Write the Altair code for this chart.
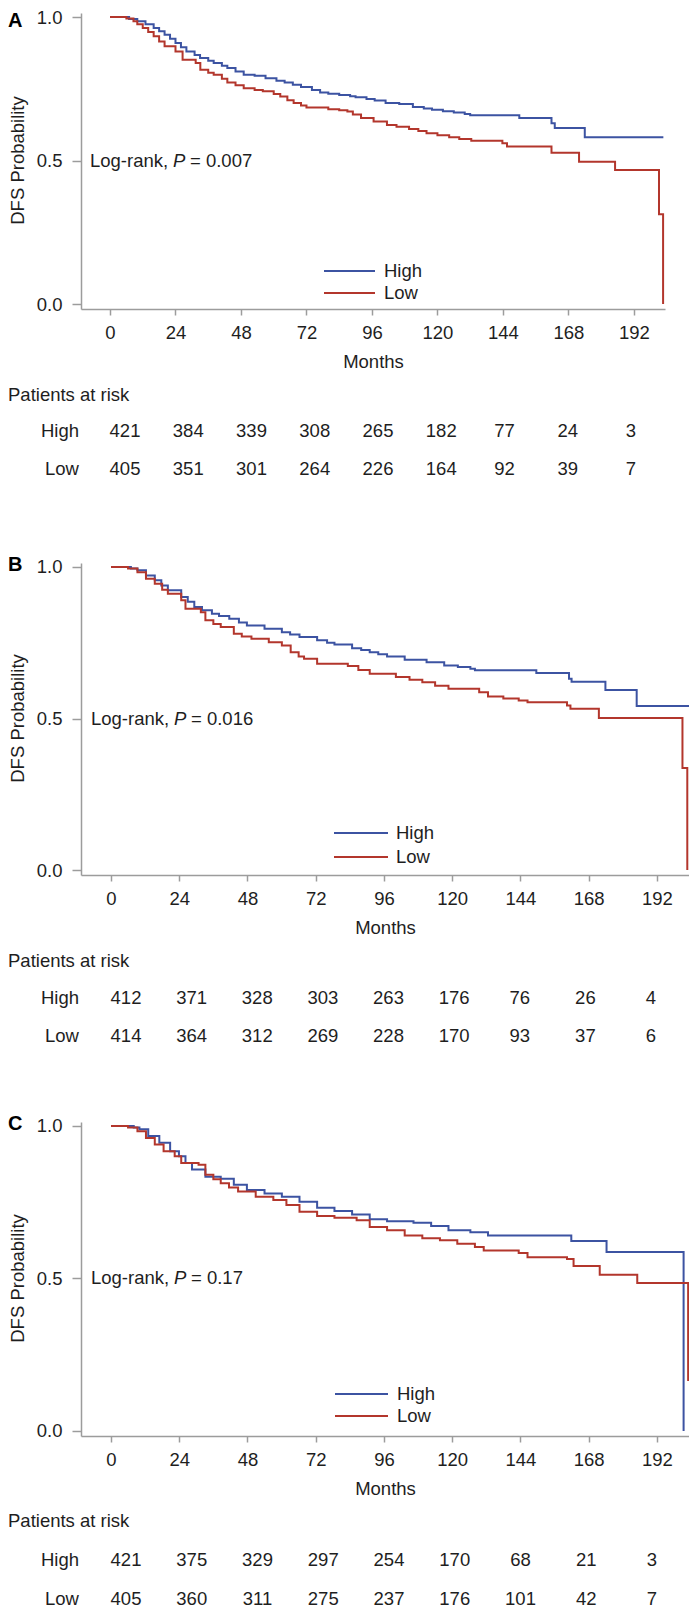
import altair as alt
import pandas as pd

FONT = "Liberation Sans"
FS = 18.5
BLUE = "#3C53A2"
RED = "#B3362C"
GRAY = "#9C9C9C"
INK = "#1E1E1E"

MONTH_TICKS = [0, 24, 48, 72, 96, 120, 144, 168, 192]
GROUPS = ["High", "Low"]

# ---------------- Panel A ----------------
A_HIGH_T = [0, 7, 10, 13, 16, 18, 20, 22, 24, 26, 28, 31, 33, 36, 38, 41, 43, 46, 49, 53,
            57, 61, 64, 67, 70, 74, 77, 80, 84, 88, 90, 94, 97, 101, 106, 111, 115, 118, 122, 126,
            130, 132, 150, 161.8, 163, 174, 202.8]
A_HIGH_S = [1.0, 0.993, 0.985, 0.975, 0.962, 0.950, 0.938, 0.924, 0.909, 0.895, 0.880, 0.868, 0.857, 0.848, 0.840, 0.830, 0.822, 0.810, 0.799, 0.795,
            0.787, 0.778, 0.772, 0.764, 0.756, 0.746, 0.737, 0.733, 0.728, 0.724, 0.720, 0.714, 0.709, 0.700, 0.697, 0.686, 0.681, 0.677, 0.672, 0.667,
            0.662, 0.658, 0.648, 0.630, 0.613, 0.581, 0.581]
A_LOW_T = [0, 6, 8.6, 10, 12, 14, 16, 18, 20, 24, 26.6, 31.4, 33.1, 36, 38, 41, 43, 46, 49, 53,
           56, 60, 62.4, 65, 67.3, 70, 72, 80, 84, 87, 89, 92, 96.6, 101.5, 105, 109.6, 113, 116, 120, 124.3,
           128, 132.4, 143.8, 145.5, 161.8, 171.9, 185.1, 201.2, 202.7]
A_LOW_S = [1.0, 0.995, 0.985, 0.975, 0.962, 0.948, 0.933, 0.915, 0.898, 0.880, 0.851, 0.840, 0.816, 0.806, 0.799, 0.785, 0.772, 0.762, 0.752, 0.746,
           0.741, 0.732, 0.723, 0.710, 0.700, 0.692, 0.685, 0.679, 0.675, 0.671, 0.660, 0.648, 0.636, 0.624, 0.618, 0.610, 0.603, 0.595, 0.588, 0.581,
           0.575, 0.569, 0.560, 0.549, 0.527, 0.496, 0.467, 0.313, 0.0]
A_RISK_HIGH = [421, 384, 339, 308, 265, 182, 77, 24, 3]
A_RISK_LOW = [405, 351, 301, 264, 226, 164, 92, 39, 7]

# ---------------- Panel B ----------------
B_HIGH_T = [0, 7, 9.3, 12.3, 15.4, 17.7, 20, 24.7, 27, 29.3, 32, 35.5, 38, 41.6, 45, 47.8, 54, 60.1, 63, 66.3,
            72.5, 76, 78.6, 84.8, 88, 91, 94, 97.1, 103.3, 111, 117.2, 122, 126.4, 128, 149.6, 161.1, 162, 173.9, 184.9, 203.3]
B_HIGH_S = [1.0, 0.995, 0.989, 0.972, 0.956, 0.939, 0.923, 0.901, 0.885, 0.868, 0.857, 0.846, 0.838, 0.829, 0.817, 0.807, 0.796, 0.785, 0.777, 0.769,
            0.758, 0.750, 0.744, 0.732, 0.726, 0.719, 0.712, 0.705, 0.694, 0.686, 0.675, 0.670, 0.664, 0.659, 0.650, 0.631, 0.621, 0.594, 0.541, 0.541]
B_LOW_T = [0, 6, 9.3, 12.3, 15.4, 18, 20, 24.7, 26.2, 31.6, 33.2, 36, 38.6, 43.2, 46, 49.4, 55.5, 60.1, 63.2, 66,
           67.9, 72.5, 83.3, 87, 91, 100.2, 105, 109.5, 114, 118.7, 129.5, 132.6, 138, 143.4, 146.5, 160.4, 161.6, 171.6, 201, 202.7]
B_LOW_S = [1.0, 0.995, 0.983, 0.961, 0.945, 0.925, 0.912, 0.890, 0.862, 0.851, 0.824, 0.812, 0.802, 0.780, 0.771, 0.763, 0.752, 0.741, 0.719, 0.705,
           0.697, 0.681, 0.673, 0.660, 0.648, 0.637, 0.628, 0.620, 0.608, 0.598, 0.587, 0.573, 0.566, 0.559, 0.554, 0.543, 0.532, 0.502, 0.337, 0.0]
B_RISK_HIGH = [412, 371, 328, 303, 263, 176, 76, 26, 4]
B_RISK_LOW = [414, 364, 312, 269, 228, 170, 93, 37, 6]

# ---------------- Panel C ----------------
C_HIGH_T = [0, 8, 10, 13.1, 17, 20.8, 23.9, 26.2, 28.5, 33.2, 38.6, 43.2, 47.8, 54, 60.1, 66.3, 72.5, 78.6, 84.8, 91,
            97.1, 106.4, 112.6, 118.7, 126.4, 132.6, 161.9, 174.3, 201.4]
C_HIGH_S = [1.0, 0.995, 0.989, 0.967, 0.945, 0.917, 0.901, 0.879, 0.857, 0.834, 0.827, 0.807, 0.790, 0.779, 0.768, 0.752, 0.732, 0.721, 0.710, 0.694,
            0.688, 0.683, 0.672, 0.658, 0.652, 0.641, 0.623, 0.587, 0.0]
C_LOW_T = [0, 6, 9.3, 12.3, 15.4, 18.5, 22.4, 24.7, 30.8, 33.2, 36, 38.6, 41.5, 44.7, 50.9, 57.1, 61.7, 66.3, 72.5, 78.6,
           86.4, 91, 97.1, 103.3, 109.5, 115.7, 121.8, 128, 131.1, 143.4, 146.5, 160.4, 162.7, 171.9, 185.1, 203.0]
C_LOW_S = [1.0, 0.995, 0.983, 0.961, 0.939, 0.917, 0.901, 0.879, 0.873, 0.840, 0.825, 0.812, 0.798, 0.785, 0.768, 0.757, 0.741, 0.719, 0.705, 0.699,
           0.691, 0.669, 0.658, 0.641, 0.632, 0.625, 0.614, 0.603, 0.592, 0.584, 0.570, 0.564, 0.541, 0.512, 0.485, 0.164]
C_RISK_HIGH = [421, 375, 329, 297, 254, 170, 68, 21, 3]
C_RISK_LOW = [405, 360, 311, 275, 237, 176, 101, 42, 7]

LETTERS = ["A", "B", "C"]
P_VALUES = ["0.007", "0.016", "0.17"]


def one(d):
    return pd.DataFrame(d)


def spacer(y):
    return alt.Chart(one({"s": [0]})).mark_rule(color="#ffffff", strokeOpacity=0, strokeWidth=1).encode(
        x=alt.value(0), x2=alt.value(1), y=alt.value(y))


def panel(letter, p, hi_t, hi_s, lo_t, lo_s, risk_hi, risk_lo, cfg):
    W, H, zero = cfg["W"], cfg["H"], cfg["zero"]
    ymin, ymax = cfg["ydom"]
    y_half = (ymax - 0.5) / (ymax - ymin) * H

    km = pd.concat([
        pd.DataFrame({"Months": hi_t, "Surv": hi_s, "Group": "High"}),
        pd.DataFrame({"Months": lo_t, "Surv": lo_s, "Group": "Low"}),
    ], ignore_index=True)

    x = alt.X("Months:Q", scale=alt.Scale(domain=cfg["xdom"], nice=False, zero=False),
              axis=alt.Axis(values=MONTH_TICKS, tickSize=6, labelPadding=8, labelFlush=False,
                            title="Months", titlePadding=cfg["titlePad"]))
    y = alt.Y("Surv:Q", scale=alt.Scale(domain=cfg["ydom"], nice=False, zero=False),
              axis=alt.Axis(values=[0, 0.5, 1.0], format=".1f", tickSize=9, labelPadding=10, title=None))

    lines = alt.Chart(km).mark_line(interpolate="step-after", strokeWidth=2, clip=True).encode(
        x=x, y=y,
        color=alt.Color("Group:N", scale=alt.Scale(domain=GROUPS, range=[BLUE, RED]), legend=None),
    )

    txt = dict(font=FONT, fontSize=FS, color=INK)

    letter_mark = alt.Chart(one({"t": [letter]})).mark_text(
        align="left", baseline="middle", font=FONT, fontSize=20, fontWeight="bold", color="#000000"
    ).encode(x=alt.value(-73), y=alt.value(cfg["letter_y"]), text="t:N")

    ytitle = alt.Chart(one({"t": ["DFS Probability"]})).mark_text(
        align="center", baseline="middle", angle=270, **txt
    ).encode(x=alt.value(-63.5), y=alt.value(y_half), text="t:N")

    lr1 = alt.Chart(one({"t": ["Log-rank,"]})).mark_text(align="left", baseline="middle", **txt).encode(
        x=alt.value(cfg["log_x"]), y=alt.value(y_half), text="t:N")
    lr2 = alt.Chart(one({"t": ["P"]})).mark_text(align="left", baseline="middle", fontStyle="italic", **txt).encode(
        x=alt.value(cfg["log_x"] + 83), y=alt.value(y_half), text="t:N")
    lr3 = alt.Chart(one({"t": ["= " + p]})).mark_text(align="left", baseline="middle", **txt).encode(
        x=alt.value(cfg["log_x"] + 100), y=alt.value(y_half), text="t:N")

    lx0, lx1, ltx = cfg["leg_x"]
    leg = []
    for g, col, ly in zip(GROUPS, [BLUE, RED], cfg["leg_y"]):
        leg.append(alt.Chart(one({"g": [g]})).mark_rule(color=col, strokeWidth=2).encode(
            x=alt.value(lx0), x2=alt.value(lx1), y=alt.value(ly)))
        leg.append(alt.Chart(one({"g": [g]})).mark_text(align="left", baseline="middle", **txt).encode(
            x=alt.value(ltx), y=alt.value(ly), text="g:N"))

    par, rh, rl = cfg["rows"]
    risk = pd.DataFrame({"Months": MONTH_TICKS, "High": risk_hi, "Low": risk_lo})
    rx = alt.X("Months:Q", scale=alt.Scale(domain=[0, 192], range=cfg["risk_range"]), axis=None)
    risk_hi_mark = alt.Chart(risk).mark_text(align="center", baseline="middle", **txt).encode(
        x=rx, y=alt.value(zero + rh), text="High:Q")
    risk_lo_mark = alt.Chart(risk).mark_text(align="center", baseline="middle", **txt).encode(
        x=rx, y=alt.value(zero + rl), text="Low:Q")
    par_mark = alt.Chart(one({"t": ["Patients at risk"]})).mark_text(align="left", baseline="middle", **txt).encode(
        x=alt.value(-73), y=alt.value(zero + par), text="t:N")
    row_labels = []
    for g, off in zip(GROUPS, [rh, rl]):
        row_labels.append(alt.Chart(one({"g": [g]})).mark_text(align="right", baseline="middle", **txt).encode(
            x=alt.value(-2), y=alt.value(zero + off), text="g:N"))

    spacers = []
    if cfg.get("bottom") is not None:
        spacers.append(spacer(zero + cfg["bottom"]))
    if cfg.get("top") is not None:
        spacers.append(spacer(cfg["top"]))

    layers = [lines, letter_mark, ytitle, lr1, lr2, lr3] + leg + [risk_hi_mark, risk_lo_mark, par_mark] + row_labels + spacers
    return alt.layer(*layers).resolve_scale(x="independent").properties(width=W, height=H)


CFG_A = dict(W=584, H=296, zero=291, xdom=[-10.63, 203.4], ydom=[-0.01742, 1.01394], titlePad=11,
             risk_range=[44, 550], letter_y=8, log_x=9, leg_x=(243, 294, 303), leg_y=(258, 280),
             rows=(91, 127, 165), top=None, bottom=180)
CFG_B = dict(W=608, H=312, zero=307, xdom=[-10.55, 203.3], ydom=[-0.0165, 1.0132], titlePad=11,
             risk_range=[45, 570], letter_y=2, log_x=10, leg_x=(253, 307, 315), leg_y=(270, 294),
             rows=(91, 128, 166), top=-78.75, bottom=180)
CFG_C = dict(W=608, H=314, zero=309, xdom=[-10.55, 203.3], ydom=[-0.0164, 1.0131], titlePad=11,
             risk_range=[45, 571], letter_y=2, log_x=10, leg_x=(254, 307, 316), leg_y=(272, 294),
             rows=(90, 129, 168), top=-72, bottom=None)

pA = panel(LETTERS[0], P_VALUES[0], A_HIGH_T, A_HIGH_S, A_LOW_T, A_LOW_S, A_RISK_HIGH, A_RISK_LOW, CFG_A)
pB = panel(LETTERS[1], P_VALUES[1], B_HIGH_T, B_HIGH_S, B_LOW_T, B_LOW_S, B_RISK_HIGH, B_RISK_LOW, CFG_B)
pC = panel(LETTERS[2], P_VALUES[2], C_HIGH_T, C_HIGH_S, C_LOW_T, C_LOW_S, C_RISK_HIGH, C_RISK_LOW, CFG_C)

chart = alt.vconcat(pA, pB, pC, spacing=0).properties(padding=0).configure_view(
    stroke=None
).configure_axis(
    domainColor=GRAY, tickColor=GRAY, domainWidth=1.5, tickWidth=1.5,
    labelColor=INK, labelFont=FONT, labelFontSize=FS,
    titleColor=INK, titleFont=FONT, titleFontSize=FS, titleFontWeight="normal",
    grid=False,
).configure_concat(spacing=0)

chart.save("out.html", embed_options={"renderer": "svg", "actions": False})
